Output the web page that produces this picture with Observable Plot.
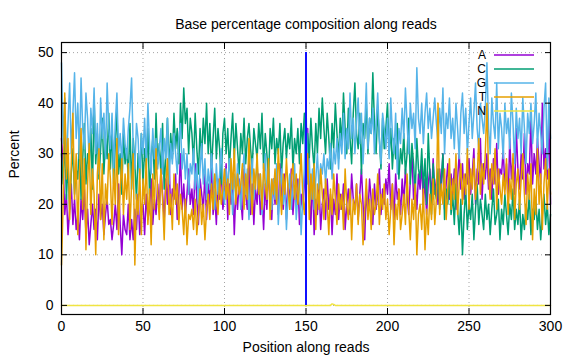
<!DOCTYPE html>
<html><head><meta charset="utf-8">
<script src="https://cdn.jsdelivr.net/npm/d3@7"></script>
<script src="https://cdn.jsdelivr.net/npm/@observablehq/plot@0.6"></script>
<style>
body{margin:0;background:#fff;}
#chart{width:576px;height:360px;font-family:"Liberation Sans",Arial,sans-serif;}
</style></head><body><div id="chart"></div>
<script>
const chartTitle = "Base percentage composition along reads";
const xTitle = "Position along reads";
const yTitle = "Percent";
const seriesNames = ["A","C","G","T","N"];
const seriesColors = ["#9400d3","#009e73","#56b4e9","#e69f00","#f0e442"];
const xTicks = [0,50,100,150,200,250,300];
const yTicks = [0,10,20,30,40,50];
const boundaryPosition = [150];
const boundaryRange = [0,50];

const baseA = [
33,28,18,22,14,19,24,16,21,15, 18,13,21,17,23,14,19,12,16,20, 15,19,13,22,17,20,14,18,21,16,
17,13,16,20,15,24,16,10,18,15, 14,20,13,17,13,19,15,22,14,18, 20,14,22,17,19,25,16,21,18,24,
19,27,22,17,25,20,29,18,23,21, 26,17,22,30,19,24,18,22,27,20, 23,18,28,21,16,25,22,19,26,17,
24,20,29,18,22,16,25,21,27,19, 22,28,17,24,20,26,14,23,19,25, 21,17,27,22,19,29,18,24,16,23,
20,26,18,22,15,24,19,27,21,17, 25,20,23,18,28,22,19,26,17,24, 21,27,18,23,20,25,16,22,19,24,
30,35,22,16,26,14,21,18,24,15, 20,23,17,25,19,22,14,21,18,26, 17,22,19,24,15,20,23,18,26,21,
19,24,17,22,27,20,13,23,18,25, 21,16,24,19,22,27,18,23,20,25, 22,28,19,24,17,26,21,23,18,25,
20,27,22,18,25,30,21,24,19,26, 23,28,20,25,18,24,27,21,29,22, 25,20,27,23,30,19,24,28,21,26,
22,27,19,25,30,23,28,21,26,24, 29,22,26,31,20,27,24,33,21,28, 25,30,23,27,21,29,24,32,22,27,
26,31,23,28,20,33,25,29,22,35, 27,23,30,25,34,22,28,26,37,24, 30,26,33,28,24,40,27,31,25,38,
20];
const baseC = [
30,24,33,21,28,19,26,31,22,27, 25,33,21,29,36,24,30,27,35,23, 41,28,34,25,31,37,26,33,29,38,
27,35,24,32,39,26,30,22,34,28, 31,25,36,23,33,28,21,30,26,34, 24,31,27,35,22,29,33,25,38,28,
32,26,36,23,30,37,27,34,29,38, 31,35,28,40,33,43,36,39,30,37, 34,28,38,31,26,35,29,37,32,40,
30,36,27,33,39,29,35,31,24,34, 37,30,35,27,33,38,29,36,31,26, 34,30,37,28,33,36,31,27,35,32,
29,36,31,38,27,34,30,25,35,31, 37,28,33,30,36,26,32,35,29,34, 31,37,27,33,30,35,28,36,32,38,
26,34,29,37,31,27,36,30,39,33, 41,35,30,38,33,27,36,31,40,34, 29,37,32,42,35,30,39,33,28,38,
44,34,31,38,26,36,33,40,30,37, 34,46,36,30,39,33,27,37,31,35, 40,30,35,27,33,29,36,25,31,28,
34,26,30,37,24,32,28,22,33,27, 25,31,23,29,20,34,26,18,28,23, 21,27,19,25,30,17,23,20,26,18,
22,16,24,19,14,21,10,18,23,15, 20,17,22,13,19,24,16,21,18,15, 22,17,20,14,19,23,16,18,21,13,
19,16,22,18,14,20,17,23,15,19, 16,21,13,18,15,20,17,22,14,19, 17,21,15,19,13,18,22,16,20,14,
18];
const baseG = [
48,32,41,27,36,44,30,38,46,33, 40,29,45,35,31,42,37,28,39,34, 43,30,36,26,41,33,38,29,44,35,
31,38,27,36,42,30,34,28,37,32, 29,35,39,45,31,27,36,33,25,34, 30,37,28,40,32,26,35,29,33,27,
31,35,26,33,29,37,24,32,28,34, 30,26,33,36,27,31,25,30,22,28, 26,31,23,28,20,27,32,24,29,21,
27,23,30,25,19,28,22,26,31,24, 20,27,23,29,25,18,26,22,28,24, 19,26,30,22,27,17,24,29,21,25,
28,22,26,18,24,30,21,27,23,19, 25,21,28,16,23,27,20,24,15,22, 26,19,23,28,17,22,25,14,21,27,
40,24,29,21,27,19,25,30,23,28, 26,30,24,29,27,32,25,31,28,33, 27,34,30,38,29,35,31,42,33,37,
30,36,41,32,38,28,35,44,31,37, 34,39,30,36,42,33,28,38,35,31, 37,29,41,34,30,38,26,35,32,39,
33,43,36,30,40,35,38,31,47,37, 34,40,32,38,42,35,39,33,37,41, 36,32,39,34,43,30,38,35,41,33,
37,31,40,35,29,38,42,34,39,30, 36,41,33,38,44,35,31,40,37,34, 39,48,35,30,41,36,33,44,31,38,
35,29,40,34,37,31,42,36,28,39, 33,37,30,41,35,28,38,34,40,32, 36,42,31,38,34,30,39,44,27,41,
33];
const baseT = [
8,20,42,25,33,17,28,38,21,30, 14,26,35,19,29,11,24,32,18,27, 22,10,26,31,17,28,13,24,20,30,
25,16,27,20,33,14,23,29,18,26, 21,28,15,24,30,8,22,18,27,14, 25,20,29,16,23,12,26,19,31,22,
17,27,21,13,24,29,18,22,15,26, 20,24,16,22,19,14,21,12,18,17, 19,15,21,14,18,23,16,20,13,19,
22,17,24,19,26,21,18,25,20,23, 27,21,25,18,29,23,31,20,26,22, 24,28,19,26,21,33,25,18,27,23,
30,22,26,19,28,24,21,29,17,25, 22,27,20,31,24,18,26,22,29,23, 19,25,28,21,26,20,24,30,22,18,
23,30,17,26,21,28,15,24,19,27, 22,17,25,20,14,23,18,26,21,16, 24,19,22,15,27,20,17,23,13,21,
18,24,16,22,20,12,19,25,17,21, 15,23,18,20,26,16,22,19,24,17, 21,14,19,24,12,20,17,23,15,18,
22,16,26,19,13,21,17,24,10,18, 20,15,23,11,19,14,22,17,25,16, 21,40,18,24,20,27,17,23,29,19,
25,21,30,18,24,28,20,26,22,31, 19,27,23,29,21,25,33,22,28,24, 30,40,26,21,28,24,31,19,27,23,
20,26,22,29,18,25,21,30,17,24, 27,19,25,30,22,16,26,21,28,13, 23,18,31,20,26,15,24,29,19,27,
22];
const baseN = [
0,0,0,0,0,0,0,0,0,0, 0,0,0,0,0,0,0,0,0,0, 0,0,0,0,0,0,0,0,0,0,
0,0,0,0,0,0,0,0,0,0, 0,0,0,0,0,0,0,0,0,0, 0,0,0,0,0,0,0,0,0,0,
0,0,0,0,0,0,0,0,0,0, 0,0,0,0,0,0,0,0,0,0, 0,0,0,0,0,0,0,0,0,0,
0,0,0,0,0,0,0,0,0,0, 0,0,0,0,0,0,0,0,0,0, 0,0,0,0,0,0,0,0,0,0,
0,0,0,0,0,0,0,0,0,0, 0,0,0,0,0,0,0,0,0,0, 0,0,0,0,0,0,0,0,0,0,
0,0,0,0,0,0,0,0,0,0, 0,0,0,0,0,0,0.3,0.2,0,0, 0,0,0,0,0,0,0,0,0,0,
0,0,0,0,0,0,0,0,0,0, 0,0,0,0,0,0,0,0,0,0, 0,0,0,0,0,0,0,0,0,0,
0,0,0,0,0,0,0,0,0,0, 0,0,0,0,0,0,0,0,0,0, 0,0,0,0,0,0,0,0,0,0,
0,0,0,0,0,0,0,0,0,0, 0,0,0,0,0,0,0,0,0,0, 0,0,0,0,0,0,0,0,0,0,
0,0,0,0,0,0,0,0,0,0, 0,0,0,0,0,0,0,0,0,0, 0,0,0,0,0,0,0,0,0,0,
0];

const seriesValues = [baseA, baseC, baseG, baseT, baseN];
const rows = [];
seriesNames.forEach((name, i) => {
  seriesValues[i].forEach((v, pos) => rows.push({pos, pct: v, base: name}));
});

const font = '"Liberation Sans", Arial, sans-serif';
const noText = () => "";
const chart = Plot.plot({
  width: 576, height: 360,
  marginLeft: 61, marginRight: 26, marginTop: 42, marginBottom: 46,
  style: {fontFamily: font, fontSize: "14px", color: "#000", background: "#fff", overflow: "visible"},
  x: {domain: [0, 300]},
  y: {domain: [-1.8, 52]},
  color: {domain: seriesNames, range: seriesColors},
  marks: [
    Plot.gridX(xTicks, {stroke: "#999", strokeOpacity: 0.9, strokeDasharray: "1,3"}),
    Plot.gridY(yTicks, {stroke: "#999", strokeOpacity: 0.9, strokeDasharray: "1,3"}),
    Plot.line(rows, {x: "pos", y: "pct", z: "base", stroke: "base", strokeWidth: 1.5}),
    Plot.ruleX(boundaryPosition, {y1: boundaryRange[0], y2: boundaryRange[1], stroke: "#1010ff", strokeWidth: 2}),
    Plot.frame({stroke: "#000", strokeWidth: 1.2}),
    Plot.axisX(xTicks, {anchor: "bottom", tickSize: -6, tickFormat: noText, label: null, stroke: "#000"}),
    Plot.axisX(xTicks, {anchor: "top", tickSize: -6, tickFormat: noText, label: null, stroke: "#000"}),
    Plot.axisY(yTicks, {anchor: "left", tickSize: -6, tickFormat: noText, label: null, stroke: "#000"}),
    Plot.axisY(yTicks, {anchor: "right", tickSize: -6, tickFormat: noText, label: null, stroke: "#000"}),
    Plot.axisX(xTicks, {anchor: "bottom", tickSize: 0, tickPadding: 7, fontSize: 14, fill: "#000", label: null}),
    Plot.axisY(yTicks, {anchor: "left", tickSize: 0, tickPadding: 8, fontSize: 14, fill: "#000", label: null}),
    Plot.text([chartTitle], {frameAnchor: "top", dy: -23, fontSize: 14, fill: "#000"}),
    Plot.text([xTitle], {frameAnchor: "bottom", dy: 37, fontSize: 14, fill: "#000"}),
    Plot.text([yTitle], {frameAnchor: "left", dx: -47, rotate: -90, fontSize: 14, fill: "#000"})
  ]
});
document.getElementById("chart").appendChild(chart);

// legend (gnuplot-style key in the top-right of the frame)
const svg = d3.select(chart);
const key = svg.append("g").attr("font-family", font).attr("font-size", 12);
seriesNames.forEach((name, i) => {
  const yy = 55 + i * 14;
  key.append("text").attr("x", 486).attr("y", yy).attr("dy", "0.35em")
    .attr("text-anchor", "end").attr("fill", "#000").text(name);
  key.append("line").attr("x1", 494).attr("x2", 534).attr("y1", yy).attr("y2", yy)
    .attr("stroke", seriesColors[i]).attr("stroke-width", 1.5);
});
</script></body></html>
